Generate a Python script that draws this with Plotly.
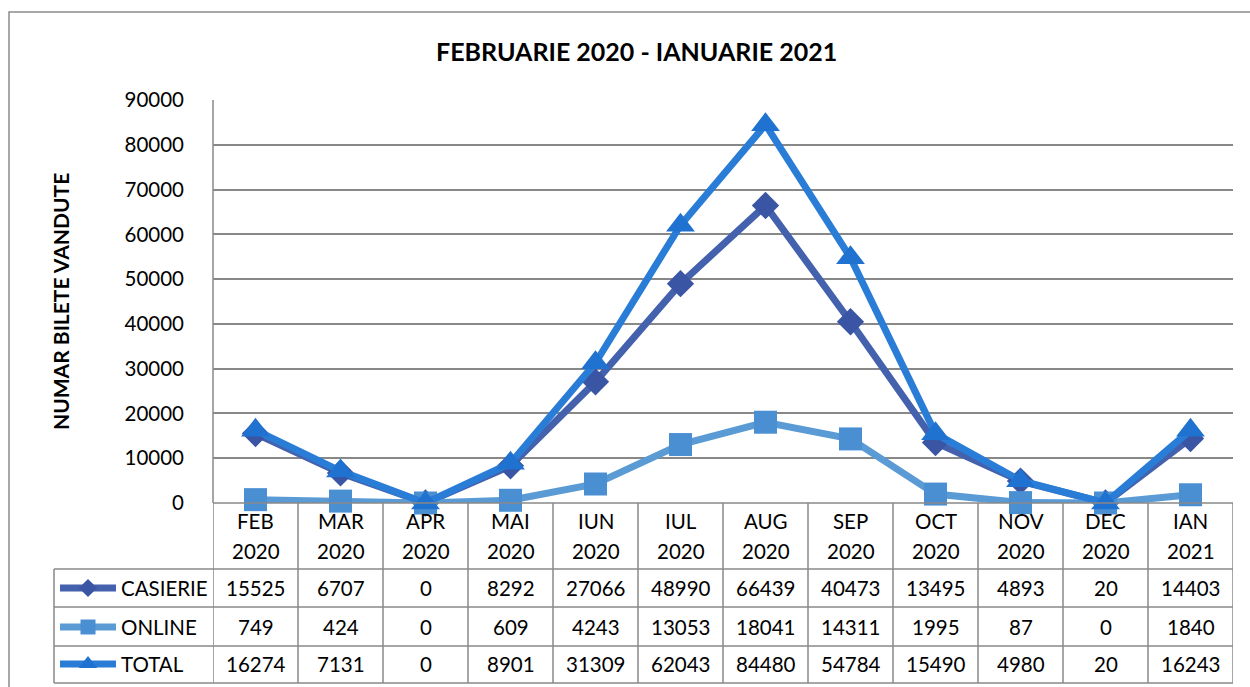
import plotly.graph_objects as go

months = ["FEB", "MAR", "APR", "MAI", "IUN", "IUL", "AUG", "SEP", "OCT", "NOV", "DEC", "IAN"]
years = ["2020"] * 11 + ["2021"]
casierie = [15525, 6707, 0, 8292, 27066, 48990, 66439, 40473, 13495, 4893, 20, 14403]
online = [749, 424, 0, 609, 4243, 13053, 18041, 14311, 1995, 87, 0, 1840]
total = [16274, 7131, 0, 8901, 31309, 62043, 84480, 54784, 15490, 4980, 20, 16243]
series_names = ["CASIERIE", "ONLINE", "TOTAL"]
y_ticks = [0, 10000, 20000, 30000, 40000, 50000, 60000, 70000, 80000, 90000]

W, H = 1250, 687
FONT = "Lato"
GRID = "#888888"
line_colors = ["#4361AC", "#5B9BD5", "#2A7DD6"]
marker_colors = ["#3A55A3", "#4A8FD2", "#1F72D0"]
symbols = ["diamond", "square", "triangle-up"]
msizes = [21, 23, 25]

def px(x):
    return x / W

def py(y):
    return 1 - y / H

PL, PR, PT, PB = 213, 1233, 100, 503
row_y = [588, 627, 664]

fig = go.Figure()
xs = list(range(len(months)))
for name, vals, lc, mc, sym, ms in zip(series_names, [casierie, online, total],
                                      line_colors, marker_colors, symbols, msizes):
    fig.add_trace(go.Scatter(
        x=xs, y=vals, mode="lines+markers", name=name,
        line=dict(color=lc, width=7),
        marker=dict(symbol=sym, size=ms, color=mc, line=dict(width=0)),
        showlegend=False, cliponaxis=False,
    ))

# legend keys inside the data table (pixel overlay axes)
key_sizes = [14, 15, 16]
for i, (lc, mc, sym, ks) in enumerate(zip(line_colors, marker_colors, symbols, key_sizes)):
    fig.add_trace(go.Scatter(
        x=[60, 88, 116], y=[row_y[i]] * 3, xaxis="x2", yaxis="y2",
        mode="lines", line=dict(color=lc, width=7), showlegend=False, hoverinfo="skip"))
    fig.add_trace(go.Scatter(
        x=[88], y=[row_y[i]], xaxis="x2", yaxis="y2",
        mode="markers", marker=dict(symbol=sym, size=ks, color=mc), showlegend=False, hoverinfo="skip"))

shapes = []
shapes.append(dict(type="rect", xref="paper", yref="paper", x0=px(9), x1=px(1253), y0=py(690), y1=py(12),
                   line=dict(color="#8c8c8c", width=1.5), fillcolor="rgba(0,0,0,0)"))
shapes.append(dict(type="line", xref="paper", yref="paper", x0=px(PL), x1=px(PR), y0=py(PB), y1=py(PB),
                   line=dict(color=GRID, width=1.5)))
for yy in [569, 607, 646, 683]:
    shapes.append(dict(type="line", xref="paper", yref="paper", x0=px(54), x1=px(PR), y0=py(yy), y1=py(yy),
                       line=dict(color=GRID, width=1.5)))
shapes.append(dict(type="line", xref="paper", yref="paper", x0=px(54), x1=px(54), y0=py(569), y1=py(683),
                   line=dict(color=GRID, width=1.5)))
for i in range(len(months) + 1):
    shapes.append(dict(type="line", xref="x", yref="paper", x0=i - 0.5, x1=i - 0.5,
                       y0=py(PB), y1=py(683), line=dict(color=GRID, width=1.5)))
shapes.append(dict(type="line", xref="paper", yref="paper", x0=px(PL), x1=px(PL), y0=py(PT), y1=py(PB),
                   line=dict(color=GRID, width=1.5)))

ann = []
ann.append(dict(text="<b>FEBRUARIE 2020 - IANUARIE 2021</b>", x=px(636), y=py(51), xref="paper", yref="paper",
                showarrow=False, font=dict(family=FONT, size=25, color="#000000"), xanchor="center", yanchor="middle"))
ann.append(dict(text="<b>NUMAR BILETE VANDUTE</b>", x=px(60), y=py(302), xref="paper", yref="paper",
                showarrow=False, textangle=-90, font=dict(family=FONT, size=21, color="#000000"),
                xanchor="center", yanchor="middle"))
tf = dict(family=FONT, size=20.5, color="#000000")
for i, (m, yr) in enumerate(zip(months, years)):
    ann.append(dict(text=m, x=i, y=py(521), xref="x", yref="paper", showarrow=False, font=tf,
                    xanchor="center", yanchor="middle"))
    ann.append(dict(text=yr, x=i, y=py(551), xref="x", yref="paper", showarrow=False, font=tf,
                    xanchor="center", yanchor="middle"))
for r, (name, vals) in enumerate(zip(series_names, [casierie, online, total])):
    ann.append(dict(text=name, x=px(119), y=py(row_y[r]), xref="paper", yref="paper", showarrow=False,
                    font=tf, xanchor="left", yanchor="middle"))
    for i, v in enumerate(vals):
        ann.append(dict(text=str(v), x=i, y=py(row_y[r]), xref="x", yref="paper", showarrow=False,
                        font=tf, xanchor="center", yanchor="middle"))

fig.update_layout(
    width=W, height=H, margin=dict(l=0, r=0, t=0, b=0, pad=0, autoexpand=False),
    paper_bgcolor="white", plot_bgcolor="rgba(0,0,0,0)",
    xaxis=dict(domain=[px(PL), px(PR)], range=[-0.5, len(months) - 0.5], showgrid=False,
               showticklabels=False, zeroline=False, showline=False, fixedrange=True),
    yaxis=dict(domain=[py(PB), py(PT)], range=[0, 90000], tickvals=y_ticks,
               ticktext=[str(t) for t in y_ticks], showgrid=True, gridcolor=GRID, gridwidth=1.5,
               zeroline=False, showline=False, ticks="", ticklabelstandoff=28, fixedrange=True,
               tickfont=dict(family=FONT, size=20.5, color="#000000")),
    xaxis2=dict(domain=[0, 1], range=[0, W], visible=False, anchor="y2", fixedrange=True),
    yaxis2=dict(domain=[0, 1], range=[H, 0], visible=False, anchor="x2", fixedrange=True),
    shapes=shapes, annotations=ann,
)

fig.write_html("out.html", config={"displayModeBar": False},
               post_script="document.body.style.margin='0';document.body.style.overflow='hidden';")
